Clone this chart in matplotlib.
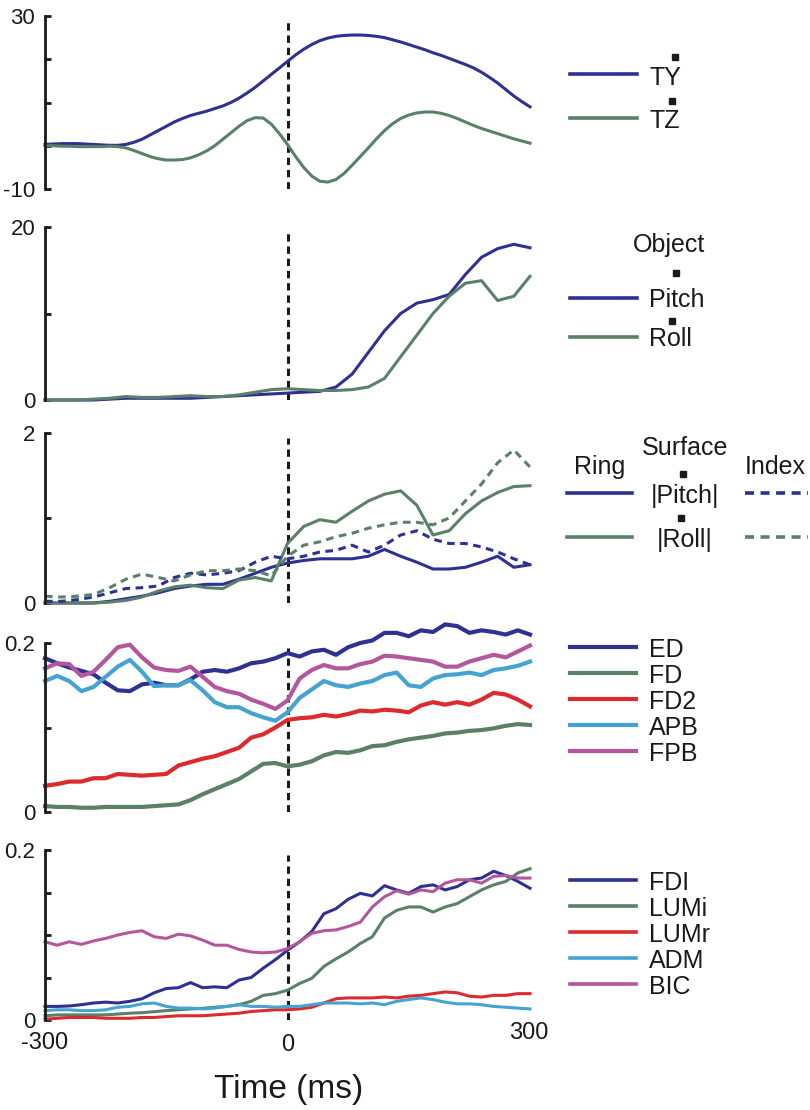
import numpy as np
import matplotlib.pyplot as plt
from matplotlib.lines import Line2D

plt.rcParams['font.family'] = ['Liberation Sans', 'DejaVu Sans']

W, H = 810, 1110

# sample times (ms)
t_fine = np.arange(-300, 301, 10)
t_smooth = np.arange(-300, 301, 20)
t_emg = np.arange(-300, 301, 15)

# panel 1: torque rates
TY = [0.3, 0.4, 0.5, 0.5, 0.5, 0.4, 0.3, 0.2, 0.1, 0.1, 0.3, 0.8, 1.5, 2.5, 3.5, 4.5,
      5.5, 6.3, 7.0, 7.5, 8.0, 8.6, 9.2, 10.0, 11.0, 12.2, 13.5, 15.0, 16.5, 18.0, 19.5,
      21.0, 22.3, 23.4, 24.3, 24.9, 25.3, 25.5, 25.6, 25.6, 25.5, 25.3, 25.0, 24.5, 24.0,
      23.4, 22.8, 22.2, 21.5, 20.9, 20.2, 19.5, 18.8, 18.0, 17.0, 15.8, 14.5, 13.0, 11.5,
      10.2, 9.0]
TZ = [0.0, 0.0, -0.1, -0.1, -0.2, -0.2, -0.2, -0.2, -0.1, -0.2, -0.5, -1.1, -1.8, -2.5,
      -3.0, -3.3, -3.3, -3.2, -2.8, -2.1, -1.2, 0.0, 1.5, 3.0, 4.5, 5.8, 6.5, 6.4, 5.0, 2.8,
      0.3, -2.5, -5.0, -7.0, -8.2, -8.4, -7.8, -6.4, -4.5, -2.5, -0.5, 1.6, 3.5, 5.1, 6.3,
      7.1, 7.6, 7.8, 7.8, 7.5, 7.0, 6.3, 5.5, 4.7, 4.0, 3.4, 2.8, 2.2, 1.6, 1.1, 0.6]

# panel 2: object pitch / roll velocity
obj_pitch = [0.0, 0.0, 0.0, 0.0, 0.1, 0.2, 0.2, 0.2, 0.2, 0.2, 0.3, 0.4, 0.5, 0.6, 0.7, 0.8,
             0.9, 1.0, 1.5, 3.0, 5.5, 8.0, 10.0, 11.2, 11.6, 12.2, 14.5, 16.5, 17.5, 18.0, 17.6]
obj_roll = [0.0, 0.0, 0.0, 0.1, 0.2, 0.4, 0.3, 0.3, 0.4, 0.5, 0.4, 0.4, 0.6, 0.9, 1.2, 1.3,
            1.2, 1.1, 1.1, 1.2, 1.5, 2.5, 5.0, 7.5, 10.0, 12.0, 13.5, 13.8, 11.5, 12.0, 14.3]

# panel 3: surface |pitch| / |roll| for ring and index
ring_pitch = [0.0, 0.0, 0.0, 0.0, 0.02, 0.05, 0.08, 0.12, 0.17, 0.20, 0.22, 0.22, 0.28, 0.35, 0.42, 0.47,
              0.50, 0.52, 0.52, 0.52, 0.55, 0.63, 0.55, 0.48, 0.40, 0.40, 0.42, 0.48, 0.55, 0.42, 0.45]
ring_roll = [0.0, 0.0, 0.0, 0.0, 0.01, 0.03, 0.07, 0.14, 0.19, 0.21, 0.18, 0.17, 0.27, 0.30, 0.26, 0.70,
             0.90, 0.98, 0.95, 1.08, 1.20, 1.28, 1.32, 1.15, 0.80, 0.85, 1.05, 1.20, 1.30, 1.37, 1.38]
index_pitch = [0.02, 0.02, 0.04, 0.07, 0.12, 0.17, 0.18, 0.20, 0.30, 0.35, 0.33, 0.35, 0.38, 0.48, 0.55, 0.52,
               0.55, 0.60, 0.62, 0.68, 0.60, 0.68, 0.80, 0.85, 0.75, 0.70, 0.70, 0.66, 0.60, 0.52, 0.45]
index_roll = [0.08, 0.07, 0.08, 0.10, 0.18, 0.28, 0.34, 0.30, 0.26, 0.33, 0.38, 0.38, 0.40, 0.38, 0.32, 0.55,
              0.68, 0.72, 0.78, 0.82, 0.88, 0.92, 0.95, 0.95, 0.92, 1.00, 1.20, 1.40, 1.65, 1.80, 1.60]

# panel 4: extrinsic / thumb EMG
ED = [0.182, 0.176, 0.171, 0.167, 0.163, 0.153, 0.144, 0.143, 0.151, 0.153, 0.150, 0.150, 0.157, 0.166,
      0.168, 0.166, 0.170, 0.176, 0.178, 0.182, 0.188, 0.184, 0.190, 0.192, 0.186, 0.195, 0.200, 0.203,
      0.212, 0.212, 0.208, 0.215, 0.213, 0.222, 0.220, 0.212, 0.215, 0.213, 0.210, 0.215, 0.210]
FD = [0.007, 0.006, 0.006, 0.005, 0.005, 0.006, 0.006, 0.006, 0.006, 0.007, 0.008, 0.009, 0.014, 0.021,
      0.027, 0.033, 0.039, 0.048, 0.057, 0.058, 0.054, 0.056, 0.060, 0.067, 0.071, 0.070, 0.073, 0.078,
      0.079, 0.083, 0.086, 0.088, 0.090, 0.093, 0.094, 0.096, 0.097, 0.099, 0.102, 0.104, 0.103]
FD2 = [0.031, 0.033, 0.036, 0.036, 0.040, 0.040, 0.045, 0.044, 0.043, 0.044, 0.045, 0.055, 0.059, 0.063,
       0.066, 0.071, 0.076, 0.088, 0.092, 0.100, 0.109, 0.111, 0.112, 0.115, 0.113, 0.116, 0.120, 0.119,
       0.121, 0.120, 0.118, 0.126, 0.130, 0.127, 0.130, 0.127, 0.133, 0.141, 0.139, 0.133, 0.125]
APB = [0.155, 0.161, 0.155, 0.143, 0.148, 0.160, 0.172, 0.180, 0.166, 0.149, 0.150, 0.150, 0.156, 0.144,
       0.130, 0.124, 0.124, 0.117, 0.112, 0.108, 0.118, 0.135, 0.145, 0.155, 0.150, 0.148, 0.152, 0.155,
       0.162, 0.165, 0.150, 0.148, 0.158, 0.162, 0.163, 0.165, 0.162, 0.168, 0.170, 0.173, 0.178]
FPB = [0.170, 0.176, 0.175, 0.161, 0.166, 0.180, 0.195, 0.198, 0.183, 0.171, 0.168, 0.167, 0.172, 0.160,
       0.148, 0.143, 0.140, 0.133, 0.128, 0.122, 0.132, 0.158, 0.168, 0.174, 0.170, 0.170, 0.175, 0.178,
       0.185, 0.184, 0.182, 0.180, 0.178, 0.172, 0.172, 0.178, 0.182, 0.186, 0.183, 0.190, 0.197]

# panel 5: intrinsic hand / arm EMG
FDI = [0.016, 0.016, 0.0165, 0.018, 0.020, 0.021, 0.020, 0.022, 0.025, 0.032, 0.037, 0.038, 0.044, 0.038,
       0.039, 0.038, 0.047, 0.050, 0.061, 0.071, 0.082, 0.092, 0.104, 0.125, 0.131, 0.142, 0.149, 0.146,
       0.158, 0.153, 0.149, 0.157, 0.159, 0.153, 0.157, 0.165, 0.167, 0.175, 0.170, 0.163, 0.155]
LUMi = [0.005, 0.006, 0.006, 0.006, 0.006, 0.006, 0.007, 0.008, 0.0086, 0.0098, 0.011, 0.012, 0.013, 0.0137,
        0.015, 0.016, 0.018, 0.022, 0.029, 0.031, 0.035, 0.043, 0.049, 0.063, 0.072, 0.080, 0.090, 0.098,
        0.120, 0.129, 0.133, 0.133, 0.127, 0.133, 0.137, 0.145, 0.153, 0.159, 0.163, 0.173, 0.178]
LUMr = [0.001, 0.002, 0.003, 0.003, 0.003, 0.002, 0.002, 0.002, 0.003, 0.003, 0.004, 0.005, 0.005, 0.005,
        0.006, 0.007, 0.008, 0.010, 0.011, 0.012, 0.012, 0.013, 0.015, 0.020, 0.025, 0.026, 0.026, 0.026,
        0.027, 0.026, 0.028, 0.029, 0.031, 0.033, 0.032, 0.028, 0.027, 0.029, 0.029, 0.031, 0.031]
ADM = [0.011, 0.012, 0.012, 0.011, 0.011, 0.012, 0.015, 0.016, 0.019, 0.020, 0.016, 0.014, 0.014, 0.013,
       0.014, 0.016, 0.018, 0.016, 0.016, 0.015, 0.016, 0.016, 0.018, 0.020, 0.020, 0.020, 0.019, 0.020,
       0.018, 0.022, 0.024, 0.026, 0.024, 0.021, 0.019, 0.019, 0.018, 0.016, 0.015, 0.014, 0.013]
BIC = [0.092, 0.088, 0.092, 0.089, 0.093, 0.096, 0.100, 0.103, 0.105, 0.098, 0.096, 0.101, 0.099, 0.094,
       0.088, 0.088, 0.083, 0.080, 0.079, 0.080, 0.084, 0.092, 0.102, 0.105, 0.106, 0.110, 0.115, 0.133,
       0.145, 0.152, 0.148, 0.153, 0.151, 0.161, 0.165, 0.165, 0.161, 0.169, 0.170, 0.167, 0.167]

NAVY = '#2e3192'
GREEN = '#5b8068'
RED = '#dc2a2e'
LBLUE = '#45a3d2'
PINK = '#b3579c'

fig = plt.figure(figsize=(W / 100, H / 100), dpi=100)


def make_axes(top_px, bot_px, ylim, yticks, ylabels):
    ax = fig.add_axes([45 / W, 1 - bot_px / H, (530 - 45) / W, (bot_px - top_px) / H])
    ax.set_xlim(-300, 300)
    ax.set_ylim(*ylim)
    for s in ['top', 'right', 'bottom']:
        ax.spines[s].set_visible(False)
    ax.spines['left'].set_linewidth(2.0)
    ax.spines['left'].set_color('#1a1a1a')
    ax.set_xticks([])
    ax.set_yticks(yticks)
    ax.set_yticklabels(ylabels)
    ax.tick_params(axis='y', direction='in', length=4, width=2.0, labelsize=16, pad=7,
                   colors='#1a1a1a')
    ax.axvline(0, ymin=0, ymax=0.97, color='#1a1a1a', lw=2.2, ls=(0, (2.4, 1.6)))
    ax.set_facecolor('none')
    return ax


def fx(x):
    return x / W


def fy(y):
    return 1 - y / H


def leg_line(x0, x1, y, color, lw, ls='-'):
    fig.add_artist(Line2D([fx(x0), fx(x1)], [fy(y), fy(y)], color=color, lw=lw, ls=ls,
                          transform=fig.transFigure))


def leg_text(x, y, s, ha='left'):
    fig.text(fx(x), fy(y), s, ha=ha, va='baseline', fontsize=18, color='#1a1a1a')


def dot(x, y):
    fig.add_artist(Line2D([fx(x)], [fy(y)], marker='s', ms=4, color='#1a1a1a', lw=0,
                          transform=fig.transFigure))


# ---- panel 1
ax1 = make_axes(16, 189, (-10, 30), [-10, 0, 10, 20, 30], ['-10', '', '', '', '30'])
ax1.plot(t_fine, TY, color=NAVY, lw=2.2, clip_on=False)
ax1.plot(t_fine, TZ, color=GREEN, lw=2.2, clip_on=False)
leg_line(570, 637, 74, NAVY, 2.6)
leg_line(570, 637, 118, GREEN, 2.6)
leg_text(649, 85, 'TY')
leg_text(649, 128, 'TZ')
dot(675, 57)
dot(672, 101)

# ---- panel 2
ax2 = make_axes(227, 400, (0, 20), [0, 10, 20], ['0', '', '20'])
ax2.plot(t_smooth, obj_pitch, color=NAVY, lw=2.2, clip_on=False)
ax2.plot(t_smooth, obj_roll, color=GREEN, lw=2.2, clip_on=False)
leg_text(669, 252, 'Object', ha='center')
leg_line(570, 637, 298, NAVY, 2.6)
leg_line(570, 637, 337, GREEN, 2.6)
leg_text(649, 307, 'Pitch')
leg_text(649, 346, 'Roll')
dot(676, 273)
dot(672, 321)

# ---- panel 3
dash = (0, (2.5, 1.8))
ax3 = make_axes(433, 603, (0, 2), [0, 1, 2], ['0', '', '2'])
ax3.plot(t_smooth, ring_pitch, color=NAVY, lw=2.2, clip_on=False)
ax3.plot(t_smooth, ring_roll, color=GREEN, lw=2.2, clip_on=False)
ax3.plot(t_smooth, index_pitch, color=NAVY, lw=2.2, ls=dash, clip_on=False)
ax3.plot(t_smooth, index_roll, color=GREEN, lw=2.2, ls=dash, clip_on=False)
leg_text(685, 455, 'Surface', ha='center')
leg_text(600, 474, 'Ring', ha='center')
leg_text(775, 474, 'Index', ha='center')
leg_line(567, 632, 493, NAVY, 2.6)
leg_line(567, 632, 537, GREEN, 2.6)
leg_line(745, 808, 493, NAVY, 2.6, dash)
leg_line(745, 808, 537, GREEN, 2.6, dash)
leg_text(685, 503, '|Pitch|', ha='center')
leg_text(685, 547, '|Roll|', ha='center')
dot(683, 474)
dot(681, 518)

# ---- panel 4
ax4 = make_axes(643, 812, (0, 0.2), [0, 0.1, 0.2], ['0', '', '0.2'])
names4 = ['ED', 'FD', 'FD2', 'APB', 'FPB']
series4 = [ED, FD, FD2, APB, FPB]
colors4 = [NAVY, GREEN, RED, LBLUE, PINK]
for i, (name, vals, c) in enumerate(zip(names4, series4, colors4)):
    ax4.plot(t_emg, vals, color=c, lw=3.0, clip_on=False)
    y = 647 + 26 * i
    leg_line(570, 636, y, c, 3.0)
    leg_text(649, y + 10, name)

# ---- panel 5
ax5 = make_axes(850, 1020, (0, 0.2), [0, 0.05, 0.1, 0.15, 0.2], ['0', '', '', '', '0.2'])
names5 = ['FDI', 'LUMi', 'LUMr', 'ADM', 'BIC']
series5 = [FDI, LUMi, LUMr, ADM, BIC]
colors5 = [NAVY, GREEN, RED, LBLUE, PINK]
for i, (name, vals, c) in enumerate(zip(names5, series5, colors5)):
    ax5.plot(t_emg, vals, color=c, lw=2.2, clip_on=False)
    y = 880 + 26 * i
    leg_line(570, 636, y, c, 2.6)
    leg_text(649, y + 10, name)

xf = ax5.get_xaxis_transform()
ax5.text(-300, -0.135, '-300', transform=xf, ha='center', va='center', fontsize=17, color='#1a1a1a')
ax5.text(0, -0.147, '0', transform=xf, ha='center', va='center', fontsize=17, color='#1a1a1a')
ax5.text(298, -0.076, '300', transform=xf, ha='center', va='center', fontsize=17, color='#1a1a1a')
ax5.text(2, -0.41, 'Time (ms)', transform=xf, ha='center', va='center', fontsize=24, color='#1a1a1a')

fig.savefig('out.png', dpi=100)
